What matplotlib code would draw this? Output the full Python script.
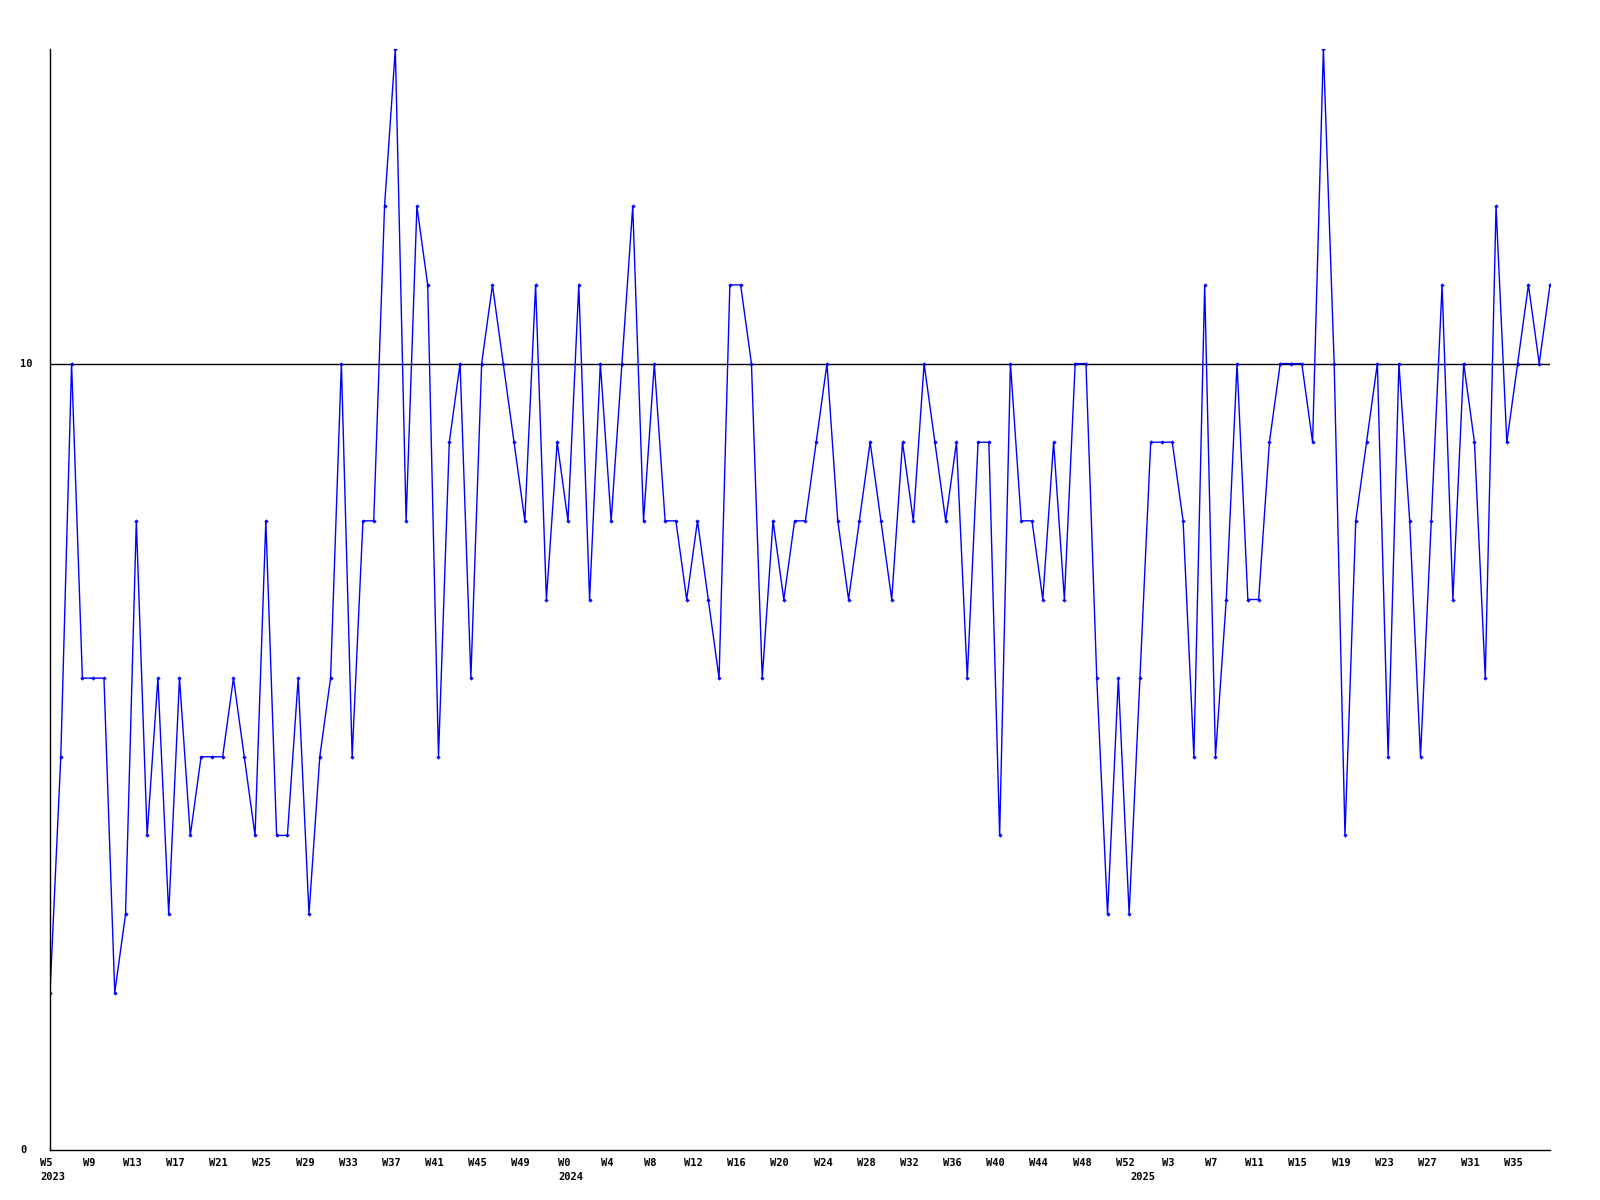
import matplotlib
matplotlib.use("Agg")
import matplotlib.pyplot as plt
import matplotlib.transforms as mtransforms

# weekly values, 2023 W5 .. 2025 W38
values = [2, 5, 10, 6, 6, 6, 2, 3, 8, 4, 6, 3, 6, 4, 5, 5, 5, 6, 5, 4, 8,
          4, 4, 6, 3, 5, 6, 10, 5, 8, 8, 12, 14, 8, 12, 11, 5, 9, 10, 6, 10,
          11, 10, 9, 8, 11, 7, 9, 8, 11, 7, 10, 8, 10, 12, 8, 10, 8, 8, 7, 8, 7,
          6, 11, 11, 10, 6, 8, 7, 8, 8, 9, 10, 8, 7, 8, 9, 8, 7, 9, 8, 10,
          9, 8, 9, 6, 9, 9, 4, 10, 8, 8, 7, 9, 7, 10, 10, 6, 3, 6, 3, 6, 9,
          9, 9, 8, 5, 11, 5, 7, 10, 7, 7, 9, 10, 10, 10, 9, 14, 10, 4, 8, 9,
          10, 5, 10, 8, 5, 8, 11, 7, 10, 9, 6, 12, 9, 10, 11, 10, 11]

week_labels = ["W5", "W9", "W13", "W17", "W21", "W25", "W29", "W33", "W37", "W41", "W45", "W49",
               "W0", "W4", "W8", "W12", "W16", "W20", "W24", "W28", "W32", "W36", "W40", "W44",
               "W48", "W52", "W3", "W7", "W11", "W15", "W19", "W23", "W27", "W31", "W35"]
week_pos = list(range(0, 4 * len(week_labels), 4))

years = ["2023", "2024", "2025"]
year_pos = [0, 48, 101]

y_labels = ["0", "10"]
y_pos = [0, 10]

font = dict(family="DejaVu Sans Mono", weight="bold", size=7.5)

fig = plt.figure(figsize=(16, 12), dpi=100)
ax = fig.add_axes([50 / 1600, 1 - 1150 / 1200, 1500 / 1600, 1101 / 1200])

x = list(range(len(values)))
ax.plot(x, values, color="#0000ff", lw=1, marker="D", ms=2.2, mew=0)
ax.axhline(10, color="black", lw=1, zorder=0)

ax.set_xlim(0, len(values) - 1)
ax.set_ylim(0, 14)

for s in ["top", "right"]:
    ax.spines[s].set_visible(False)
for s in ["left", "bottom"]:
    ax.spines[s].set_linewidth(1)
    ax.spines[s].set_color("black")

ax.set_xticks(week_pos)
ax.set_xticklabels(week_labels, **font)
ax.tick_params(axis="x", length=0, pad=6)
ax.set_yticks([])

# nudge week labels slightly left, like the original
shift = mtransforms.ScaledTranslation(-0.04, 0, fig.dpi_scale_trans)
for lab in ax.get_xticklabels():
    lab.set_transform(lab.get_transform() + shift)

# year labels under the week labels
tr = mtransforms.blended_transform_factory(ax.transData, fig.transFigure)
tr = tr + mtransforms.ScaledTranslation(0.03, 0, fig.dpi_scale_trans)
for yr, p in zip(years, year_pos):
    ax.text(p, 1 - 1177 / 1200, yr, transform=tr, ha="center", va="center", **font)

# y labels, left aligned near the figure edge
tr2 = mtransforms.blended_transform_factory(fig.transFigure, ax.transData)
for lab, p in zip(y_labels, y_pos):
    ax.text(20 / 1600, p, lab, transform=tr2, ha="left", va="center", **font)

fig.savefig("out.png", dpi=100)
